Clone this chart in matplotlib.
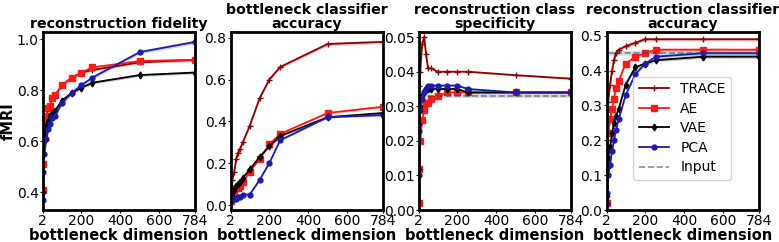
import matplotlib
matplotlib.use("Agg")
import matplotlib.pyplot as plt
import numpy as np

# bottleneck sizes
dims = [2, 5, 10, 20, 30, 40, 50, 64, 100, 150, 200, 256, 500, 784]

# reconstruction fidelity
fid_trace = [0.41, 0.52, 0.64, 0.70, 0.73, 0.74, 0.77, 0.78, 0.82, 0.85, 0.87, 0.88, 0.91, 0.92]
fid_ae = [0.41, 0.51, 0.63, 0.70, 0.73, 0.74, 0.77, 0.78, 0.82, 0.85, 0.87, 0.89, 0.915, 0.92]
fid_vae = [0.40, 0.55, 0.62, 0.66, 0.68, 0.70, 0.71, 0.72, 0.76, 0.79, 0.81, 0.83, 0.86, 0.87]
fid_pca = [0.37, 0.48, 0.55, 0.61, 0.65, 0.67, 0.69, 0.70, 0.75, 0.79, 0.82, 0.85, 0.95, 0.99]

# bottleneck classifier accuracy
bca_trace = [0.03, 0.08, 0.12, 0.16, 0.22, 0.25, 0.27, 0.30, 0.38, 0.51, 0.60, 0.66, 0.77, 0.78]
bca_ae = [0.02, 0.03, 0.04, 0.06, 0.08, 0.08, 0.09, 0.11, 0.16, 0.22, 0.29, 0.34, 0.44, 0.47]
bca_vae = [0.03, 0.04, 0.05, 0.07, 0.09, 0.10, 0.11, 0.13, 0.17, 0.23, 0.28, 0.33, 0.42, 0.44]
bca_pca = [0.02, 0.03, 0.03, 0.03, 0.03, 0.04, 0.04, 0.05, 0.05, 0.12, 0.20, 0.31, 0.42, 0.43]

# reconstruction class specificity
spec_trace = [0.030, 0.036, 0.040, 0.048, 0.050, 0.045, 0.041, 0.041, 0.040, 0.040, 0.040, 0.040, 0.039, 0.038]
spec_ae = [0.002, 0.012, 0.020, 0.026, 0.029, 0.031, 0.031, 0.032, 0.033, 0.034, 0.034, 0.034, 0.034, 0.034]
spec_vae = [0.012, 0.025, 0.030, 0.033, 0.034, 0.035, 0.035, 0.035, 0.035, 0.035, 0.035, 0.034, 0.034, 0.034]
spec_pca = [0.010, 0.023, 0.029, 0.032, 0.034, 0.035, 0.036, 0.036, 0.036, 0.036, 0.036, 0.035, 0.034, 0.034]
spec_input = 0.033

# reconstruction classifier accuracy
rca_trace = [0.03, 0.20, 0.31, 0.36, 0.40, 0.43, 0.45, 0.46, 0.47, 0.48, 0.49, 0.49, 0.49, 0.49]
rca_ae = [0.02, 0.13, 0.22, 0.26, 0.29, 0.32, 0.35, 0.37, 0.42, 0.44, 0.45, 0.46, 0.46, 0.46]
rca_vae = [0.04, 0.10, 0.15, 0.18, 0.22, 0.25, 0.27, 0.29, 0.36, 0.41, 0.42, 0.43, 0.44, 0.44]
rca_pca = [0.02, 0.05, 0.10, 0.13, 0.17, 0.20, 0.23, 0.26, 0.33, 0.39, 0.42, 0.44, 0.45, 0.45]
rca_input = 0.45

names = ["TRACE", "AE", "VAE", "PCA"]
colors = ["#8b0000", "#ff1a1a", "#000000", "#1c1ca8"]
markers = ["+", "s", "d", "o"]
msizes = [4, 4, 3.5, 3.5]

panels = [
    ("reconstruction fidelity", [fid_trace, fid_ae, fid_vae, fid_pca], None),
    ("bottleneck classifier\naccuracy", [bca_trace, bca_ae, bca_vae, bca_pca], None),
    ("reconstruction class\nspecificity", [spec_trace, spec_ae, spec_vae, spec_pca], spec_input),
    ("reconstruction classifier\naccuracy", [rca_trace, rca_ae, rca_vae, rca_pca], rca_input),
]

fig, axes = plt.subplots(1, 4, figsize=(7.79, 2.42), dpi=100)
plt.subplots_adjust(left=0.055, right=0.974, top=0.868, bottom=0.132, wspace=0.235)

for ax, (title, series, inp) in zip(axes, panels):
    for vals, name, c, m, ms in zip(series, names, colors, markers, msizes):
        vals = np.array(vals)
        band = (vals.max() - vals.min()) * 0.012
        ax.fill_between(dims, vals - band, vals + band, color=c, alpha=0.2, lw=0)
        ax.plot(dims, vals, color=c, marker=m, markersize=ms, lw=1.3, label=name)
    if inp is not None:
        band = inp * 0.015
        ax.fill_between([2, 784], inp - band, inp + band, color="#8090b0", alpha=0.3, lw=0)
        ax.axhline(inp, color="#2f4f4f", ls="--", lw=1.2, alpha=0.6, label="Input")
    ax.set_title(title, fontsize=10.2, fontweight="bold", linespacing=1.0, pad=3)
    ax.set_xlim(2, 784)
    ax.set_xticks([2, 200, 400, 600, 784])
    ax.set_xlabel("bottleneck dimension", fontsize=10.5, fontweight="bold", labelpad=0)
    ax.tick_params(labelsize=10, length=2, pad=1)
    for s in ax.spines.values():
        s.set_linewidth(2)

axes[0].set_ylabel("fMRI", fontsize=10.5, fontweight="bold", labelpad=1)
axes[0].set_yticks([0.4, 0.6, 0.8, 1.0])
axes[2].set_ylim(0, 0.0515)
axes[2].set_yticks([0.0, 0.01, 0.02, 0.03, 0.04, 0.05])
axes[3].set_ylim(0, 0.511)
axes[3].legend(loc="lower right", bbox_to_anchor=(0.865, 0.13), fontsize=10,
               handlelength=2.2, borderpad=0.4, labelspacing=0.4)

plt.savefig("out.png", dpi=100)
